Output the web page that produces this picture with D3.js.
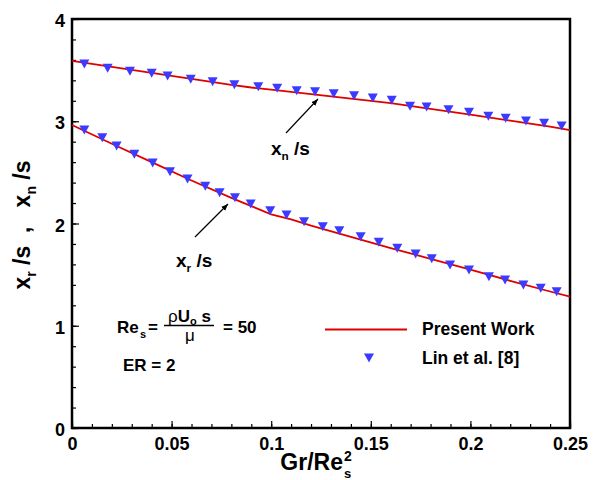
<!DOCTYPE html>
<html lang="en">
<head>
    <meta charset="UTF-8">
    <title>Reattachment lengths vs Gr/Re^2</title>
    <script src="https://d3js.org/d3.v7.min.js"></script>
    <style>
        body { margin: 0; background: #fff; }
        svg { font-family: "Liberation Sans", Arial, sans-serif; font-weight: bold; }
        svg text { white-space: pre; }
        .tick text { font-size: 18px; font-weight: bold; fill: #000; }
    </style>
</head>
<body>
    <svg id="chart" width="595" height="480"></svg>
    <script>
        // Present work (solid red lines)
        const lineX = [0, 0.02, 0.04, 0.06, 0.08, 0.09, 0.1, 0.11, 0.12, 0.14, 0.16, 0.18, 0.2, 0.22, 0.24, 0.25];
        const xnLine = [3.59, 3.532, 3.474, 3.414, 3.355, 3.33, 3.31, 3.288, 3.266, 3.222, 3.178, 3.122, 3.064, 3.006, 2.948, 2.914];
        const xrLine = [2.963, 2.78, 2.6, 2.42, 2.25, 2.17, 2.09, 2.04, 1.98, 1.87, 1.76, 1.655, 1.55, 1.44, 1.335, 1.284];

        // Lin et al. [8] (triangles)
        const linXnX = [0.0062, 0.0179, 0.0291, 0.040, 0.048, 0.0596, 0.0706, 0.0815, 0.0935, 0.103, 0.1128, 0.122, 0.1314,
                        0.1416, 0.151, 0.1605, 0.1697, 0.178, 0.189, 0.1993, 0.209, 0.2177, 0.2279, 0.237, 0.2458];
        const linXn = [3.56, 3.518, 3.489, 3.469, 3.443, 3.41, 3.387, 3.357, 3.338, 3.322, 3.299, 3.289, 3.269,
                       3.25, 3.227, 3.205, 3.147, 3.139, 3.113, 3.088, 3.048, 3.029, 3.002, 2.98, 2.954];
        const linXrX = [0.0062, 0.0152, 0.0224, 0.0313, 0.0405, 0.0492, 0.058, 0.0669, 0.0741, 0.0818, 0.0897, 0.0995, 0.1077,
                        0.1165, 0.1259, 0.1342, 0.1449, 0.154, 0.1633, 0.1725, 0.1806, 0.1898, 0.1993, 0.2093, 0.2174,
                        0.2266, 0.2353, 0.2433];
        const linXr = [2.914, 2.839, 2.758, 2.677, 2.592, 2.507, 2.435, 2.365, 2.301, 2.251, 2.191, 2.125, 2.083,
                       2.018, 1.969, 1.93, 1.871, 1.817, 1.757, 1.702, 1.656, 1.594, 1.545, 1.48, 1.447,
                       1.399, 1.366, 1.333];

        const xTicks = [0, 0.05, 0.1, 0.15, 0.2, 0.25];
        const xTickLabels = ["0", "0.05", "0.1", "0.15", "0.2", "0.25"];
        const yTicks = [0, 1, 2, 3, 4];

        const margin = {left: 72, top: 19, right: 25, bottom: 52};
        const W = 595, H = 480;
        const svg = d3.select("#chart");

        const x = d3.scaleLinear().domain([0, 0.25]).range([margin.left, W - margin.right]);
        const y = d3.scaleLinear().domain([0, 4]).range([H - margin.bottom, margin.top]);

        const red = "#e00000";
        const blue = "#3b3bff";

        // minor ticks
        svg.append("g")
            .attr("transform", `translate(0,${y(0)})`)
            .call(d3.axisBottom(x).tickValues(d3.range(0, 0.2501, 0.01)).tickSize(-4).tickFormat(""))
            .call(g => g.select(".domain").remove());
        svg.append("g")
            .attr("transform", `translate(${x(0)},0)`)
            .call(d3.axisLeft(y).tickValues(d3.range(0, 4.001, 0.2)).tickSize(-4).tickFormat(""))
            .call(g => g.select(".domain").remove());

        // major ticks
        svg.append("g")
            .attr("transform", `translate(0,${y(0)})`)
            .call(d3.axisBottom(x).tickValues(xTicks).tickSize(-7).tickPadding(9)
                .tickFormat((d, i) => xTickLabels[i]))
            .call(g => g.select(".domain").remove());
        svg.append("g")
            .attr("transform", `translate(${x(0)},0)`)
            .call(d3.axisLeft(y).tickValues(yTicks).tickSize(-7).tickPadding(7).tickFormat(d3.format("d")))
            .call(g => g.select(".domain").remove())
            .call(g => g.selectAll(".tick text").attr("dy", "0.42em"));

        svg.selectAll(".tick line").attr("stroke", "#000").attr("stroke-width", 1.2);

        // frame
        svg.append("rect")
            .attr("x", x(0)).attr("y", y(4))
            .attr("width", x(0.25) - x(0)).attr("height", y(0) - y(4))
            .attr("fill", "none").attr("stroke", "#000").attr("stroke-width", 2.5);

        // lines
        const line = d3.line().x(d => x(d[0])).y(d => y(d[1]));
        [xnLine, xrLine].forEach(vals => {
            svg.append("path")
                .datum(lineX.map((v, i) => [v, vals[i]]))
                .attr("d", line)
                .attr("fill", "none")
                .attr("stroke", red)
                .attr("stroke-width", 1.8);
        });

        // triangles
        const tri = "M-5,-4.5L5,-4.5L0,4.5Z";
        [[linXnX, linXn], [linXrX, linXr]].forEach(([xs, ys]) => {
            svg.append("g").selectAll("path")
                .data(xs.map((v, i) => [v, ys[i]]))
                .join("path")
                .attr("d", tri)
                .attr("transform", d => `translate(${x(d[0])},${y(d[1])})`)
                .attr("fill", blue);
        });

        // arrows
        svg.append("defs").append("marker")
            .attr("id", "head")
            .attr("viewBox", "0 -5 10 10")
            .attr("refX", 10).attr("refY", 0)
            .attr("markerWidth", 7).attr("markerHeight", 7)
            .attr("markerUnits", "userSpaceOnUse")
            .attr("orient", "auto")
            .append("path").attr("d", "M0,-4L10,0L0,4Z").attr("fill", "#000");

        const arrows = [[286, 133, 318, 99], [195, 237, 228, 204]];
        arrows.forEach(a => {
            svg.append("line")
                .attr("x1", a[0]).attr("y1", a[1]).attr("x2", a[2]).attr("y2", a[3])
                .attr("stroke", "#000").attr("stroke-width", 1.2)
                .attr("marker-end", "url(#head)");
        });

        // curve labels
        function subLabel(px, py, main, sub, rest, size) {
            const t = svg.append("text").attr("x", px).attr("y", py).attr("font-size", size);
            t.append("tspan").text(main);
            t.append("tspan").attr("font-size", size * 0.62).attr("dy", 5).text(sub);
            t.append("tspan").attr("dy", -5).text(rest);
            return t;
        }
        subLabel(271, 155, "x", "n", " /s", 19);
        subLabel(176, 267, "x", "r", " /s", 19);

        // axis titles
        const xt = svg.append("g");
        xt.append("text").attr("x", 343).attr("y", 470).attr("text-anchor", "end")
            .attr("font-size", 23).text("Gr/Re");
        xt.append("text").attr("x", 344).attr("y", 461).attr("font-size", 14).text("2");
        xt.append("text").attr("x", 344).attr("y", 478).attr("font-size", 13).text("s");

        const yt = svg.append("text")
            .attr("transform", "translate(30,225) rotate(-90)")
            .attr("text-anchor", "middle")
            .attr("font-size", 23);
        yt.append("tspan").text("x");
        yt.append("tspan").attr("font-size", 14).attr("dy", 6).text("r");
        yt.append("tspan").attr("dy", -6).text(" /s  ,   x");
        yt.append("tspan").attr("font-size", 14).attr("dy", 6).text("n");
        yt.append("tspan").attr("dy", -6).text(" /s");

        // parameter annotation
        const ann = svg.append("g").attr("font-size", 17);
        ann.append("text").attr("x", 117).attr("y", 333).text("Re");
        ann.append("text").attr("x", 140).attr("y", 338).attr("font-size", 11).text("s");
        ann.append("text").attr("x", 148).attr("y", 333).text("=");
        ann.append("line").attr("x1", 164).attr("x2", 214).attr("y1", 325.5).attr("y2", 325.5)
            .attr("stroke", "#000").attr("stroke-width", 1.3);
        const num = ann.append("text").attr("x", 168).attr("y", 321.5);
        num.append("tspan").attr("font-weight", "normal").text("ρ");
        num.append("tspan").text("U");
        num.append("tspan").attr("font-size", 11).attr("dy", 3).text("o");
        num.append("tspan").attr("dy", -3).text(" s");
        ann.append("text").attr("x", 185).attr("y", 341).attr("font-weight", "normal").text("μ");
        ann.append("text").attr("x", 223).attr("y", 333).text("= 50");
        ann.append("text").attr("x", 123).attr("y", 371).text("ER = 2");

        // legend
        const lg = svg.append("g").attr("font-size", 17.5);
        lg.append("line").attr("x1", 325).attr("x2", 407).attr("y1", 329.5).attr("y2", 329.5)
            .attr("stroke", red).attr("stroke-width", 1.8);
        lg.append("text").attr("x", 422).attr("y", 335).text("Present Work");
        lg.append("path").attr("d", tri).attr("transform", "translate(369,358)").attr("fill", blue);
        lg.append("text").attr("x", 422).attr("y", 364).text("Lin et al. [8]");
    </script>
</body>
</html>
